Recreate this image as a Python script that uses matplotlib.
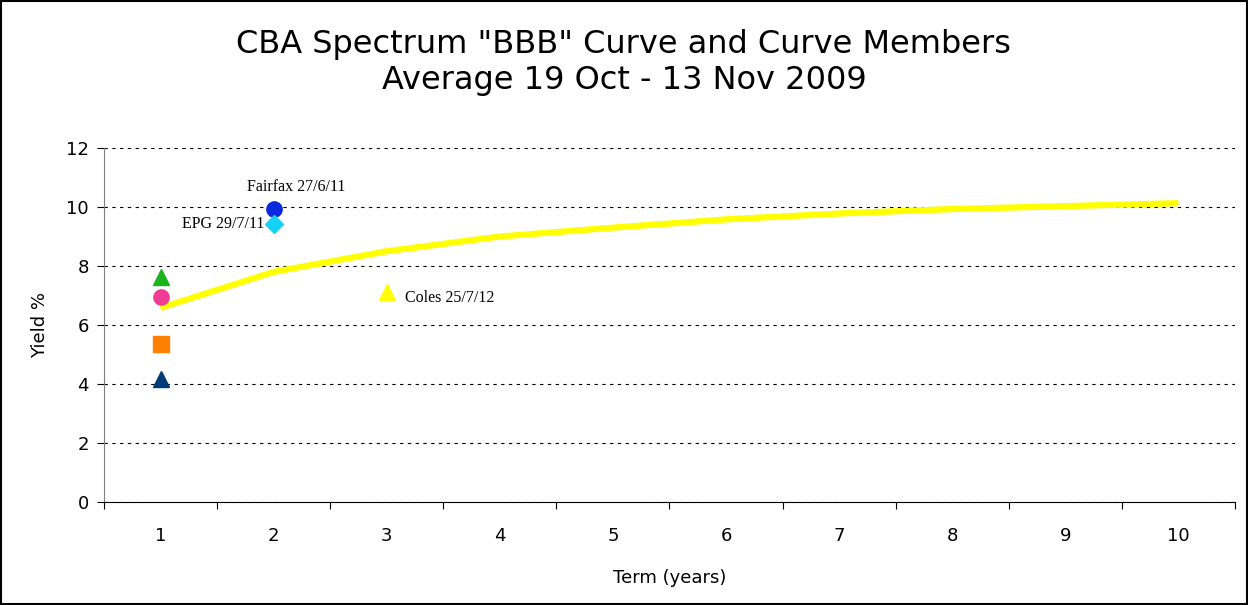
import matplotlib
matplotlib.use("Agg")
import matplotlib.pyplot as plt

terms = [1, 2, 3, 4, 5, 6, 7, 8, 9, 10]
curve = [6.58, 7.8, 8.5, 9.0, 9.3, 9.58, 9.78, 9.93, 10.03, 10.13]

# curve members: term, yield, marker, colour, label
members_x = [1, 1, 1, 1, 2, 2, 3]
members_y = [7.63, 6.95, 5.36, 4.17, 9.93, 9.42, 7.12]
members_mk = ["^", "o", "s", "^", "o", "D", "^"]
members_col = ["#1cb41c", "#f03c96", "#ff7f00", "#003c78", "#0a28dc", "#14d2f5", "#ffff00"]
members_lbl = ["", "", "", "", "Fairfax 27/6/11", "EPG 29/7/11", "Coles 25/7/12"]

fig = plt.figure(figsize=(12.48, 6.05), dpi=100)
ax = fig.add_axes([0.0833, 0.1702, 0.9063, 0.5852])

ax.plot(terms, curve, color="#ffff00", lw=4.5, solid_capstyle="butt", zorder=2)
for x, y, m, c in zip(members_x, members_y, members_mk, members_col):
    ms = 9 if m == "D" else 11
    ax.plot(x, y, marker=m, color=c, ms=ms, ls="none", zorder=3)

serif = ["Liberation Serif"]
ax.annotate(members_lbl[4], (members_x[4], members_y[4]), xytext=(16, 10),
            textcoords="offset points", ha="center", va="bottom", fontsize=11.5, family=serif)
ax.annotate(members_lbl[5], (members_x[5], members_y[5]), xytext=(-7, 0),
            textcoords="offset points", ha="right", va="center", fontsize=11.5, family=serif)
ax.annotate(members_lbl[6], (members_x[6], members_y[6]), xytext=(13, -4),
            textcoords="offset points", ha="left", va="center", fontsize=11.5, family=serif)

ax.set_xlim(0.5, 10.5)
ax.set_ylim(0, 12)
ax.set_yticks(range(0, 13, 2))
ax.set_xticks([t - 0.5 for t in terms] + [10.5])
ax.set_xticklabels([])
ax.set_xticks(terms, minor=True)
ax.set_xticklabels([str(t) for t in terms], minor=True)
ax.tick_params(axis="x", which="minor", length=0, pad=18, labelsize=13)
ax.tick_params(axis="x", which="major", length=5, direction="out")
ax.tick_params(axis="y", length=5, direction="out", labelsize=13, pad=6)
ax.grid(axis="y", color="black", ls=(0, (3, 4)), lw=0.8)
ax.set_axisbelow(True)
for s in ["top", "right"]:
    ax.spines[s].set_visible(False)
ax.spines["left"].set_color("#808080")
ax.spines["bottom"].set_color("black")

ax.set_xlabel("Term (years)", fontsize=13, labelpad=17)
ax.set_ylabel("Yield %", fontsize=13, labelpad=12)

fig.text(0.5, 0.927, 'CBA Spectrum "BBB" Curve and Curve Members', ha="center",
         va="center", fontsize=23)
fig.text(0.5, 0.867, "Average 19 Oct - 13 Nov 2009", ha="center", va="center", fontsize=23)

fig.patches.append(plt.Rectangle((0.001, 0.001), 0.998, 0.997, transform=fig.transFigure,
                                 fill=False, edgecolor="black", lw=1.5))

fig.savefig("out.png", dpi=100)
